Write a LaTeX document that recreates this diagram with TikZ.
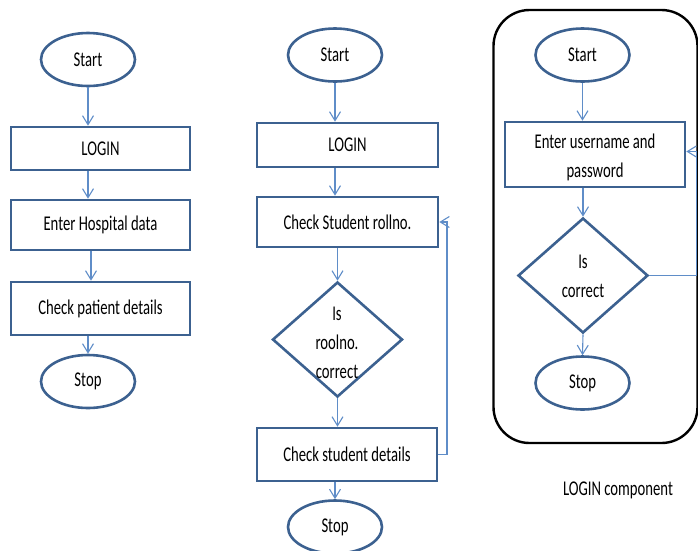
\documentclass[tikz,border=0pt]{standalone}
\usepackage{fontspec}
\setmainfont{Carlito}[FakeStretch=0.7]
\usetikzlibrary{shapes.geometric,arrows.meta}
\definecolor{boxblue}{HTML}{3C6190}
\definecolor{arrblue}{HTML}{5F8DC8}
\tikzset{
  every node/.style={font=\fontsize{21}{29}\selectfont, text=black},
  term/.style={ellipse, draw=boxblue, line width=2.6pt, minimum width=94pt, minimum height=53pt, inner sep=0pt},
  proc/.style={rectangle, draw=boxblue, line width=2.6pt, minimum width=179pt, inner sep=0pt},
  decide/.style={diamond, draw=boxblue, line width=2.6pt, minimum width=130pt, minimum height=115pt, inner sep=0pt, aspect=1.13},
  plain/.style={inner sep=0pt, align=center},
  arr/.style={draw=arrblue, line width=1.1pt, -{Straight Barb[length=9pt,width=11pt,line width=1.1pt]}},
  frame/.style={draw=black, line width=2.4pt, rounded corners=36pt}
}
\begin{document}
\begin{tikzpicture}[x=1pt,y=-1pt]
\useasboundingbox (0,0) rectangle (698,550);
% ---------- column 1 ----------
\node[term] (s1) at (88,59.5) {Start};
\node[proc, minimum height=43pt] (l1) at (100.5,148.5) {LOGIN};
\node[proc, minimum height=50pt] (h1) at (100.5,225) {Enter Hospital data};
\node[proc, minimum height=53pt] (c1) at (100.5,308.5) {Check patient details};
\node[term] (e1) at (88,381.5) {Stop};
\draw[arr] (s1.south) -- (s1.south |- l1.north);
\draw[arr] (s1.south |- l1.south) -- (s1.south |- h1.north);
\draw[arr] ([xshift=-9.5pt]h1.south) -- ([xshift=-9.5pt]h1.south |- c1.north);
\draw[arr] (e1.north |- c1.south) -- (e1.north);
% ---------- column 2 ----------
\node[term] (s2) at (335,55) {Start};
\node[proc, minimum height=44pt, minimum width=181pt] (l2) at (347.5,145) {LOGIN};
\node[proc, minimum height=50pt, minimum width=181pt] (r2) at (347.5,222) {Check Student rollno.};
\node[decide] (d2) at (337.5,339.5) {};
\node[plain] (dt2) at (337,343) {Is\\roolno.\\correct};
\node[proc, minimum height=53pt, minimum width=180pt] (c2) at (347,454.5) {Check student details};
\node[term] (e2) at (335,527) {Stop};
\draw[arr] (s2.south) -- (s2.south |- l2.north);
\draw[arr] (s2.south |- l2.south) -- (s2.south |- r2.north);
\draw[arr] (d2.north |- r2.south) -- (d2.north);
\draw[arr] (d2.south) -- (d2.south |- c2.north);
\draw[arr] (e2.north |- c2.south) -- (e2.north);
\coordinate (fb2) at (447,454.5);
\draw[arr] (c2.east) -- (fb2) |- (r2.east);
% ---------- column 3 ----------
\node[frame, minimum width=204pt, minimum height=433pt, inner sep=0pt] (fr) at (595.5,226.5) {};
\node[term] (s3) at (582.5,55) {Start};
\node[proc, minimum height=65pt, minimum width=180pt, align=center] (u3) at (595,154.5) {};
\node[plain] (ut3) at (595,157) {Enter username and\\password};
\node[decide] (d3) at (583,275.5) {};
\node[plain] (dt3) at (583,276) {Is\\correct};
\node[term] (e3) at (582.5,383) {Stop};
\draw[arr] (s3.south) -- (s3.south |- u3.north);
\draw[arr] (d3.north |- u3.south) -- (d3.north);
\draw[arr] (d3.south) -- (e3.north);
\coordinate (fb3) at (696.5,275.5);
\draw[arr] (d3.east) -- (fb3) |- ([yshift=3pt]u3.east);
\node[plain] (cap) at (618,490) {LOGIN component};
\end{tikzpicture}
\end{document}
